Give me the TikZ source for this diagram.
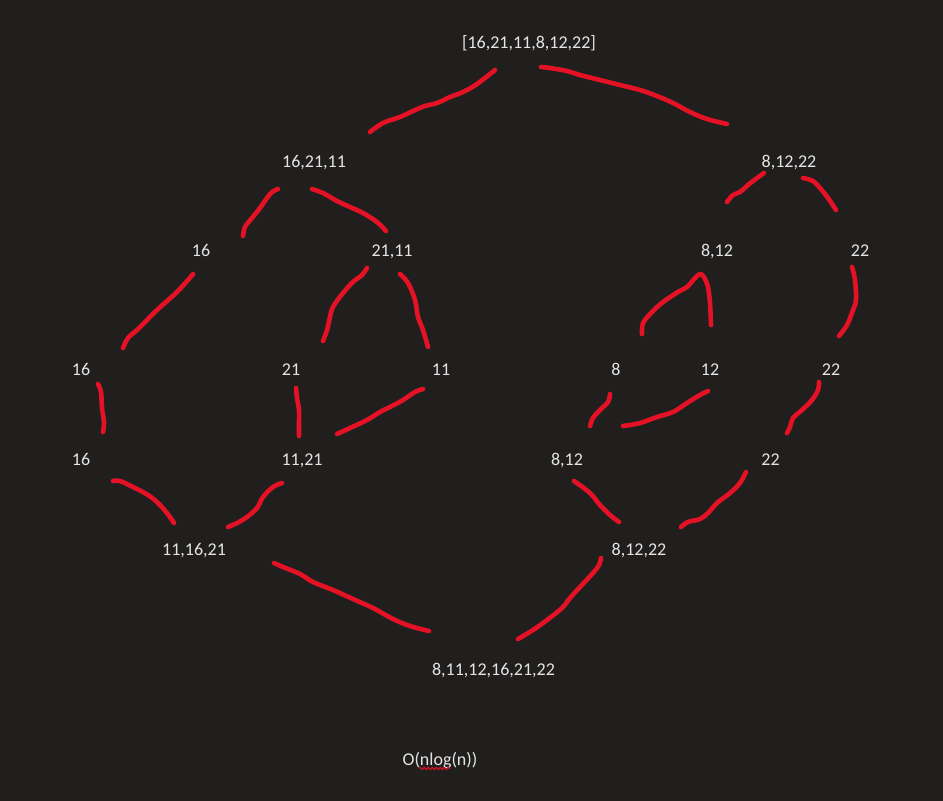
\documentclass[tikz,border=0pt]{standalone}
\usepackage{fontspec}
\setmainfont{Carlito}
\usetikzlibrary{decorations.pathmorphing}
\definecolor{bgc}{RGB}{33,31,30}
\definecolor{inkred}{RGB}{228,18,36}
\definecolor{txt}{RGB}{228,228,228}
\begin{document}
\begin{tikzpicture}[x=1pt,y=-1pt,
  lbl/.style={anchor=base,inner sep=0pt,text=txt,font=\fontsize{18}{21}\selectfont},
  pen/.style={draw=inkred,line width=4.6pt,line cap=round,line join=round}]
\fill[bgc] (0,0) rectangle (943,801);
\useasboundingbox (0,0) rectangle (943,801);
% texts
\node[lbl] (root) at (529,48) {[16,21,11,8,12,22]};
\node[lbl] (l1) at (314,167) {16,21,11};
\node[lbl] (r1) at (789,167) {8,12,22};
\node[lbl] (l2a) at (201,256) {16};
\node[lbl] (l2b) at (392,256) {21,11};
\node[lbl] (r2a) at (717,256) {8,12};
\node[lbl] (r2b) at (860,256) {22};
\node[lbl] (l3a) at (81,375.5) {16};
\node[lbl] (l3b) at (291,375.5) {21};
\node[lbl] (l3c) at (441,375.5) {11};
\node[lbl] (r3a) at (616,375.5) {8};
\node[lbl] (r3b) at (710,375.5) {12};
\node[lbl] (r3c) at (831,375.5) {22};
\node[lbl] (l4a) at (81,465.5) {16};
\node[lbl] (l4b) at (302,465.5) {11,21};
\node[lbl] (r4a) at (567,465.5) {8,12};
\node[lbl] (r4b) at (770.5,465.5) {22};
\node[lbl] (l5) at (194,555.5) {11,16,21};
\node[lbl] (r5) at (639,555.5) {8,12,22};
\node[lbl] (fin) at (493.5,675.5) {8,11,12,16,21,22};
\node[lbl] (cx) at (440,765) {O(nlog(n))};
\draw[inkred,line width=1pt,decorate,decoration={snake,amplitude=1.2pt,segment length=4pt}] (419,768.5) -- (450,768.5);
% strokes
\draw[pen] plot[smooth,tension=0.6] coordinates {(370,132) (383,123) (400,117) (413,111) (425,106) (437,103) (450,97) (463,92) (477,84) (495,70)};
\draw[pen] plot[smooth,tension=0.6] coordinates {(541,67) (550,68) (567,71) (580,75) (600,80) (620,85) (640,90) (657,96) (673,103) (690,112) (707,119) (727,124)};
\draw[pen] plot[smooth,tension=0.6] coordinates {(278,189) (272,192) (267,198) (260,208) (252,218) (245,227) (243,236)};
\draw[pen] plot[smooth,tension=0.6] coordinates {(312,189) (323,193) (337,201) (350,207) (363,213) (377,222) (386,231)};
\draw[pen] plot[smooth,tension=0.6] coordinates {(764,173) (757,178) (748,185) (740,192) (733,195) (727,202)};
\draw[pen] plot[smooth,tension=0.6] coordinates {(803,178) (813,181) (820,188) (828,198) (836,210)};
\draw[pen] plot[smooth,tension=0.6] coordinates {(193,274) (188,280) (177,292) (167,301) (157,310) (147,320) (137,330) (128,338) (123,348)};
\draw[pen] plot[smooth,tension=0.6] coordinates {(367,268) (362,275) (353,282) (343,293) (333,307) (330,317) (327,330) (323,341)};
\draw[pen] plot[smooth,tension=0.6] coordinates {(400,274) (408,283) (415,300) (418,317) (423,330) (428,347)};
\draw[pen] plot[smooth,tension=0.5] coordinates {(642,334) (643,323) (652,312) (663,302) (678,292) (687,287) (695,278) (700,274) (704,277) (708,287) (710,303) (711,325)};
\draw[pen] plot[smooth,tension=0.6] coordinates {(852,267) (855,280) (856,300) (853,310) (847,325) (839,336)};
\draw[pen] plot[smooth,tension=0.6] coordinates {(98,384) (101,392) (102,408) (104,422) (103,432)};
\draw[pen] plot[smooth,tension=0.6] coordinates {(296,388) (297,398) (299,410) (299,422) (299,436)};
\draw[pen] plot[smooth,tension=0.6] coordinates {(423,389) (415,392) (403,400) (390,407) (380,412) (367,420) (350,428) (337,434)};
\draw[pen] plot[smooth,tension=0.6] coordinates {(610,394) (608,402) (600,410) (593,418) (590,426)};
\draw[pen] plot[smooth,tension=0.6] coordinates {(708,391) (700,395) (687,403) (673,412) (657,417) (640,423) (623,426)};
\draw[pen] plot[smooth,tension=0.6] coordinates {(819,382) (818,390) (812,400) (802,410) (793,418) (790,427) (787,433)};
\draw[pen] plot[smooth,tension=0.6] coordinates {(113,481) (120,481) (133,487) (148,495) (158,503) (167,513) (174,523)};
\draw[pen] plot[smooth,tension=0.6] coordinates {(282,483) (273,487) (263,497) (257,508) (247,517) (237,523) (228,527)};
\draw[pen] plot[smooth,tension=0.6] coordinates {(574,481) (590,493) (600,505) (610,515) (619,522)};
\draw[pen] plot[smooth,tension=0.6] coordinates {(746,472) (740,483) (730,493) (717,503) (708,513) (700,519) (688,522) (681,527)};
\draw[pen] plot[smooth,tension=0.6] coordinates {(274,563) (283,567) (300,574) (313,582) (333,590) (353,599) (373,608) (393,619) (410,626) (429,631)};
\draw[pen] plot[smooth,tension=0.6] coordinates {(601,558) (599,565) (593,573) (580,587) (570,598) (562,608) (547,620) (533,630) (518,639)};
\end{tikzpicture}
\end{document}
